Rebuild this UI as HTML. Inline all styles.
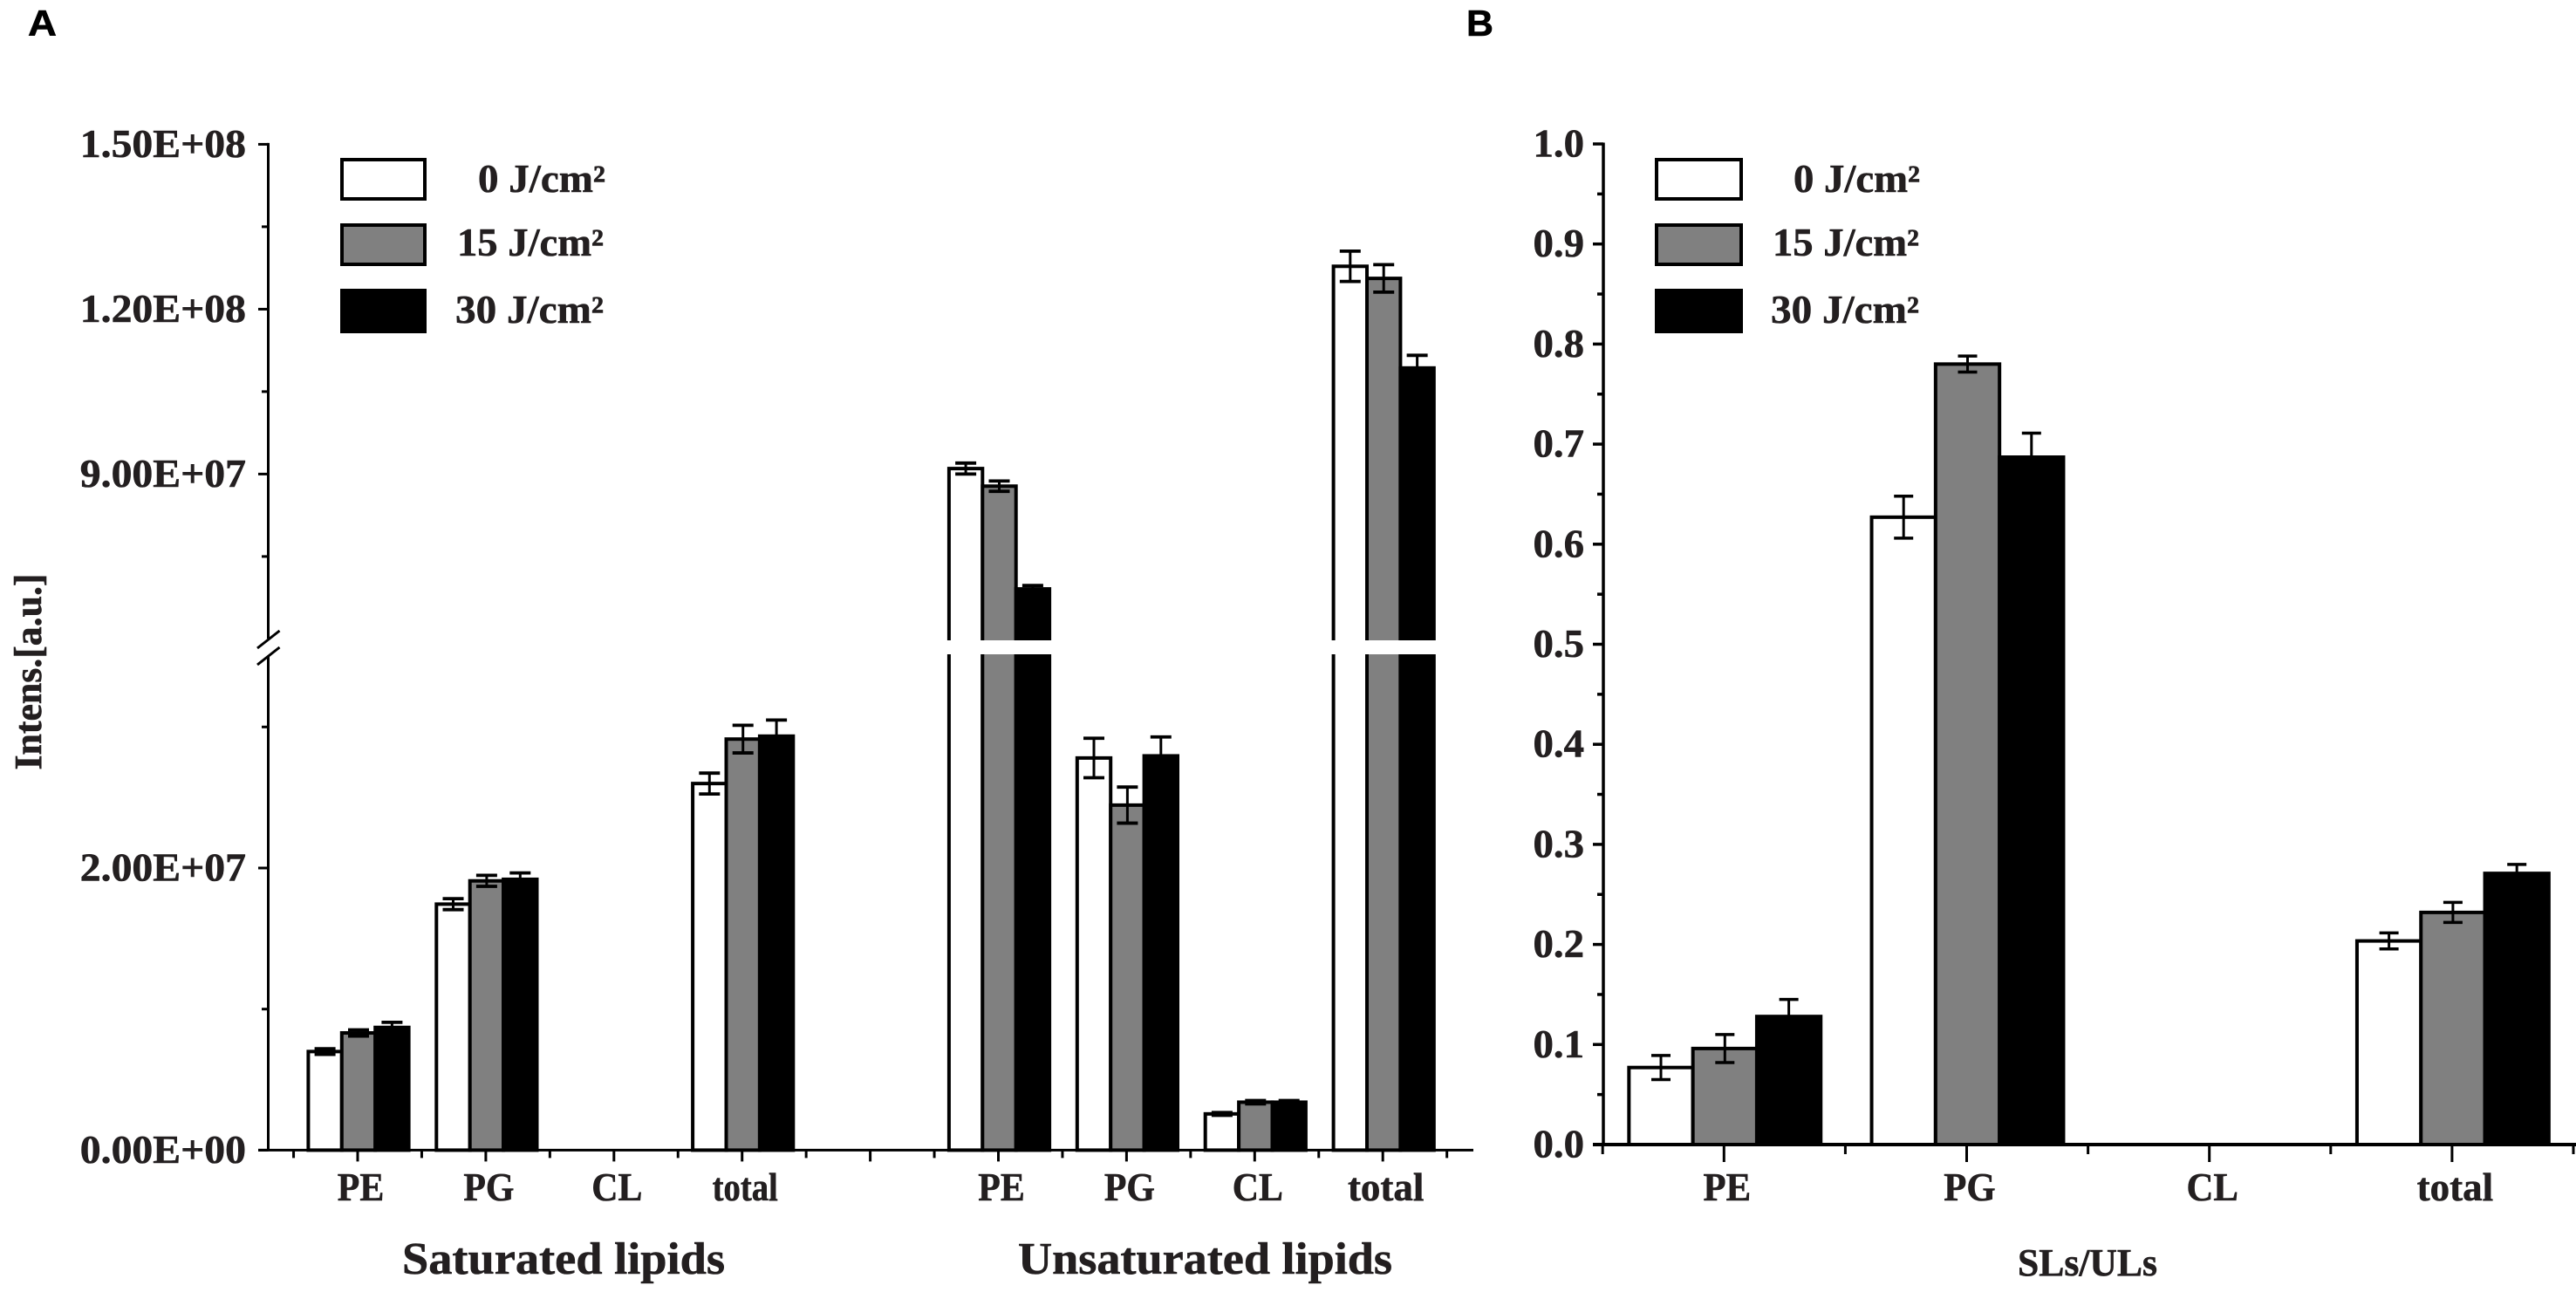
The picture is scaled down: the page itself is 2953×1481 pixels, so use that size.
<!DOCTYPE html>
<html lang="en">
<head>
<meta charset="utf-8">
<title>Saturated and unsaturated lipid intensities</title>
<style>
  html, body { margin: 0; padding: 0; background: #fff; }
  svg { display: block; }
  text { font-family: "Liberation Serif", serif; font-weight: bold; fill: #231f20; stroke: #231f20; stroke-width: 0.6px; }
  .panel-letter { font-family: "Liberation Sans", sans-serif; fill: #000; stroke: #000; }
</style>
</head>
<body>
<svg id="figure" xmlns="http://www.w3.org/2000/svg" width="2953" height="1481" viewBox="0 0 2953 1481">
  <rect x="0" y="0" width="2953" height="1481" fill="#fff"/>

  <text class="panel-letter" x="32" y="41" font-size="42" textLength="33" lengthAdjust="spacingAndGlyphs">A</text>
  <text class="panel-letter" x="1681" y="41" font-size="42" textLength="31" lengthAdjust="spacingAndGlyphs">B</text>

  <g id="panel-a"></g>
  <g id="panel-b"></g>

  <text transform="translate(47 770) rotate(-90)" text-anchor="middle" font-size="44" textLength="225" lengthAdjust="spacingAndGlyphs">Intens.[a.u.]</text>
  <text x="461" y="1460" font-size="52" textLength="370" lengthAdjust="spacingAndGlyphs">Saturated lipids</text>
  <text x="1167" y="1460" font-size="52" textLength="429" lengthAdjust="spacingAndGlyphs">Unsaturated lipids</text>
  <text x="2313" y="1462" font-size="44" textLength="160" lengthAdjust="spacingAndGlyphs">SLs/ULs</text>

  <g>
    <rect x="392" y="183" width="95" height="45" fill="#fff" stroke="#000" stroke-width="4"/>
    <rect x="392" y="258" width="95" height="45" fill="#808080" stroke="#000" stroke-width="4"/>
    <rect x="392" y="333" width="95" height="47" fill="#000" stroke="#000" stroke-width="4"/>
    <text x="548" y="220" font-size="45" textLength="146" lengthAdjust="spacingAndGlyphs">0 J/cm²</text>
    <text x="524" y="293" font-size="45" textLength="168" lengthAdjust="spacingAndGlyphs">15 J/cm²</text>
    <text x="522" y="370" font-size="45" textLength="170" lengthAdjust="spacingAndGlyphs">30 J/cm²</text>
  </g>
  <g>
    <rect x="1899" y="183" width="97" height="45" fill="#fff" stroke="#000" stroke-width="4"/>
    <rect x="1899" y="258" width="97" height="45" fill="#808080" stroke="#000" stroke-width="4"/>
    <rect x="1899" y="333" width="97" height="47" fill="#000" stroke="#000" stroke-width="4"/>
    <text x="2056" y="220" font-size="45" textLength="145" lengthAdjust="spacingAndGlyphs">0 J/cm²</text>
    <text x="2032" y="293" font-size="45" textLength="168" lengthAdjust="spacingAndGlyphs">15 J/cm²</text>
    <text x="2030" y="370" font-size="45" textLength="170" lengthAdjust="spacingAndGlyphs">30 J/cm²</text>
  </g>
</svg>

<script>
// ---------- Data (panel A values are in units of 1E+06 a.u.) ----------
const categoryLabels = ['PE', 'PG', 'CL', 'total'];
const seriesNames = ['0-j', '15-j', '30-j'];

const saturatedMean0J = [6.99, 17.44, 0, 25.99];
const saturatedMean15J = [8.31, 19.09, 0, 29.14];
const saturatedMean30J = [8.70, 19.20, 0, 29.35];
const saturatedErr0J = [0.20, 0.39, 0, 0.74];
const saturatedErr15J = [0.22, 0.39, 0, 0.98];
const saturatedErr30J = [0.36, 0.45, 0, 1.14];

const unsaturatedMean0J = [91.0, 27.8, 2.57, 127.8];
const unsaturatedMean15J = [87.8, 24.46, 3.40, 125.6];
const unsaturatedMean30J = [69.1, 27.95, 3.40, 109.3];
const unsaturatedErr0J = [1.00, 1.40, 0.10, 2.76];
const unsaturatedErr15J = [0.94, 1.28, 0.12, 2.50];
const unsaturatedErr30J = [0.63, 1.34, 0.12, 2.30];

const ratioMean0J = [0.077, 0.627, 0, 0.2035];
const ratioMean15J = [0.096, 0.780, 0, 0.232];
const ratioMean30J = [0.128, 0.687, 0, 0.271];
const ratioErr0J = [0.012, 0.021, 0, 0.008];
const ratioErr15J = [0.014, 0.008, 0, 0.010];
const ratioErr30J = [0.017, 0.024, 0, 0.009];

const panelATickValues = [0, 20, 90, 120, 150];
const panelATickLabels = ['0.00E+00', '2.00E+07', '9.00E+07', '1.20E+08', '1.50E+08'];
const panelAMinorTickValues = [10, 30, 75, 105, 135];
const panelBTickValues = [0, 0.1, 0.2, 0.3, 0.4, 0.5, 0.6, 0.7, 0.8, 0.9, 1.0];
const panelBTickLabels = ['0.0', '0.1', '0.2', '0.3', '0.4', '0.5', '0.6', '0.7', '0.8', '0.9', '1.0'];
const panelBMinorTickValues = [0.05, 0.15, 0.25, 0.35, 0.45, 0.55, 0.65, 0.75, 0.85, 0.95];

// ---------- Axis functions ----------
function yA(v) {
  if (v <= 35) return 1318.4 - v * 16.17;
  if (v >= 60) return 543.4 - (v - 90) * 6.3;
  return 752 - (v - 35) * (20 / 25);
}
function xA(i) { return 410 + 146.9 * i; }
function yB(v) { return 1312 - v * 1147; }
function xB(i) { return 1976.3 + 278.2 * i; }

const SVGNS = 'http://www.w3.org/2000/svg';
const fills = ['#ffffff', '#808080', '#000000'];
const gapTop = 734;
const gapBottom = 750;

function mk(parent, tag) {
  const el = document.createElementNS(SVGNS, tag);
  parent.appendChild(el);
  return el;
}
function setAll(el, attrs) {
  Object.keys(attrs).forEach(function (k) { el.setAttribute(k, attrs[k]); });
  return el;
}
function line(parent, x1, y1, x2, y2, w) {
  return setAll(mk(parent, 'line'), { x1: x1, y1: y1, x2: x2, y2: y2, stroke: '#000', 'stroke-width': w });
}

function drawBars(parent, label, means, errs, xFn, indexOffset, yFn, baseY, bw, stroke, capW, capStroke, useBreak) {
  means.forEach(function (seriesMeans, s) {
    seriesMeans.forEach(function (v, c) {
      const cx = xFn(c + indexOffset) + 1;
      const left = cx + (s - 1.5) * bw;
      const top = yFn(v);
      const r = setAll(mk(parent, 'rect'), {
        x: left, y: top, width: bw, height: baseY - top,
        fill: fills[s], stroke: '#000', 'stroke-width': stroke
      });
      
      
      r.setAttribute('data-series', label + '-' + seriesNames[s] + '-' + categoryLabels[c]);
    });
  });
  means.forEach(function (seriesMeans, s) {
    seriesMeans.forEach(function (v, c) {
      const e = errs[s][c];
      if (!(e > 0)) return;
      const cx = xFn(c + indexOffset) + 1 + (s - 1) * bw;
      const g = mk(parent, 'g');
      
      
      const hi = yFn(v + e);
      const lo = yFn(v - e);
      line(g, cx, hi, cx, lo, 3);
      line(g, cx - capW / 2, hi, cx + capW / 2, hi, capStroke);
      line(g, cx - capW / 2, lo, cx + capW / 2, lo, capStroke);
    });
  });
  if (useBreak) {
    means.forEach(function (seriesMeans, s) {
      seriesMeans.forEach(function (v, c) {
        if (v <= 35) return;
        const cx = xFn(c + indexOffset) + 1;
        const left = cx + (s - 1.5) * bw;
        const gap = setAll(mk(parent, 'rect'), {
          x: left - stroke, y: gapTop, width: bw + stroke * 2, height: gapBottom - gapTop, fill: '#fff'
        });
        
        
      });
    });
  }
}

function yTickText(parent, str, x, y, stretch) {
  const t = setAll(mk(parent, 'text'), { x: x, y: y, 'text-anchor': 'end', 'font-size': 45 });
  t.textContent = str;
  
  
  t.setAttribute('lengthAdjust', 'spacingAndGlyphs');
  t.setAttribute('textLength', (t.getComputedTextLength() * stretch).toFixed(1));
}

function xTickText(parent, str, x, stretch) {
  const t = setAll(mk(parent, 'text'), { x: x + 3.5, y: 1376, 'text-anchor': 'middle', 'font-size': 45 });
  t.textContent = str;
  
  
  t.setAttribute('lengthAdjust', 'spacingAndGlyphs');
  t.setAttribute('textLength', (t.getComputedTextLength() * stretch).toFixed(1));
}

// ---------- Panel A ----------
(function () {
  const root = document.getElementById('panel-a');
  const bars = mk(root, 'g');
  
  
  const base = yA(0);
  drawBars(bars, 'saturated',
    [saturatedMean0J, saturatedMean15J, saturatedMean30J],
    [saturatedErr0J, saturatedErr15J, saturatedErr30J],
    xA, 0, yA, base, 38.4, 4, 24, 3.8, true);
  drawBars(bars, 'unsaturated',
    [unsaturatedMean0J, unsaturatedMean15J, unsaturatedMean30J],
    [unsaturatedErr0J, unsaturatedErr15J, unsaturatedErr30J],
    xA, 5, yA, base, 38.4, 4, 24, 3.8, true);

  const axisX = 307.5;
  const yAxis = mk(root, 'g');
  
  
  line(yAxis, axisX, yA(150) - 1.5, axisX, 732, 3);
  line(yAxis, axisX, 752, axisX, base, 3);
  line(yAxis, 295, 743, 320.5, 723, 3);
  line(yAxis, 295, 762, 320.5, 742, 3);
  panelATickValues.forEach(function (v, i) {
    line(yAxis, 296, yA(v), axisX, yA(v), 3);
    yTickText(yAxis, panelATickLabels[i], 282, yA(v) + 14.5, 1.06);
  });
  panelAMinorTickValues.forEach(function (v) {
    line(yAxis, 300, yA(v), axisX, yA(v), 3);
  });

  const xAxis = mk(root, 'g');
  
  
  line(xAxis, 296, base, 1689, base, 3);
  for (let i = 0; i <= 8; i++) line(xAxis, xA(i), base, xA(i), base + 13, 3);
  for (let i = 0; i <= 9; i++) line(xAxis, xA(i - 0.5), base, xA(i - 0.5), base + 9, 3);
  categoryLabels.forEach(function (c, i) {
    xTickText(xAxis, c, xA(i), c === 'total' ? 0.86 : 0.93);
    xTickText(xAxis, c, xA(i + 5), c === 'total' ? 1.0 : 0.93);
  });
})();

// ---------- Panel B ----------
(function () {
  const root = document.getElementById('panel-b');
  const bars = mk(root, 'g');
  
  
  const base = yB(0);
  drawBars(bars, 'ratio',
    [ratioMean0J, ratioMean15J, ratioMean30J],
    [ratioErr0J, ratioErr15J, ratioErr30J],
    xB, 0, yB, base, 73.3, 4, 22, 3.5, false);

  const axisX = 1838;
  const yAxis = mk(root, 'g');
  
  
  line(yAxis, axisX, yB(1) - 1.5, axisX, base + 2, 3.5);
  panelBTickValues.forEach(function (v, i) {
    line(yAxis, 1826, yB(v), axisX, yB(v), 3.5);
    yTickText(yAxis, panelBTickLabels[i], 1816, yB(v) + 14.5, 1.04);
  });
  panelBMinorTickValues.forEach(function (v) {
    line(yAxis, 1831, yB(v), axisX, yB(v), 3.5);
  });

  const xAxis = mk(root, 'g');
  
  
  line(xAxis, 1826, base, 2953, base, 4);
  categoryLabels.forEach(function (c, i) {
    line(xAxis, xB(i), base, xB(i), base + 20, 3);
    xTickText(xAxis, c, xB(i), c === 'total' ? 1.0 : 0.95);
  });
  for (let i = 0; i <= 4; i++) line(xAxis, xB(i - 0.5), base, xB(i - 0.5), base + 11, 3);
})();
</script>
</body>
</html>
